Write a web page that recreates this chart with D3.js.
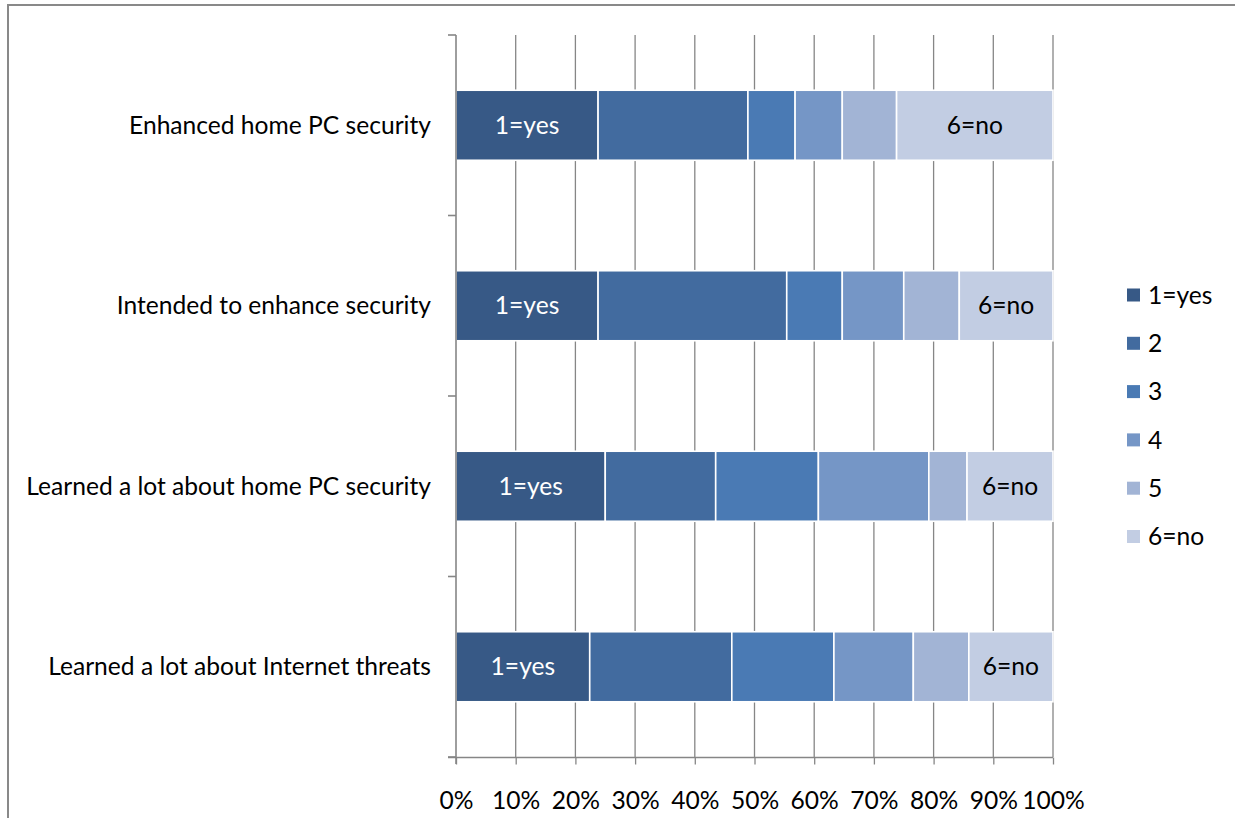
<!DOCTYPE html>
<html>
<head>
<meta charset="utf-8">
<script src="https://cdn.jsdelivr.net/npm/d3@7"></script>
<style>
  html, body { margin: 0; padding: 0; background: #fff; }
  svg { display: block; font-family: Lato, "Liberation Sans", sans-serif; }
</style>
</head>
<body>
<svg id="chart" width="1235" height="818"></svg>
<script>
// Survey answers, percent of respondents per item (1 = yes ... 6 = no)
const categories = [
  "Enhanced home PC security",
  "Intended to enhance security",
  "Learned a lot about home PC security",
  "Learned a lot about Internet threats"
];
const seriesNames = ["1=yes", "2", "3", "4", "5", "6=no"];
const answer1 = [23.8, 23.8, 25.0, 22.4];
const answer2 = [25.1, 31.6, 18.5, 23.8];
const answer3 = [7.9, 9.3, 17.2, 17.1];
const answer4 = [7.9, 10.3, 18.5, 13.3];
const answer5 = [9.1, 9.3, 6.4, 9.3];
const answer6 = [26.2, 15.7, 14.4, 14.1];
const xTicks = [0, 0.1, 0.2, 0.3, 0.4, 0.5, 0.6, 0.7, 0.8, 0.9, 1];
const colors = ["#375986", "#426b9f", "#4a7ab4", "#7596c6", "#a2b4d5", "#c2cde3"];

const seriesValues = [answer1, answer2, answer3, answer4, answer5, answer6];
const rows = categories.map((c, i) => {
  const r = { category: c };
  seriesNames.forEach((s, k) => { r[s] = seriesValues[k][i]; });
  return r;
});

const svg = d3.select("#chart");
const fontSize = 24.6;
const gridColor = "#868686";

// outer frame
svg.append("rect")
  .attr("x", 8).attr("y", 5).attr("width", 1240).attr("height", 830)
  .attr("fill", "none").attr("stroke", "#898989").attr("stroke-width", 2);

const x = d3.scaleLinear().domain([0, 1]).range([456, 1053]);
const y = d3.scaleBand().domain(categories).range([35, 757])
  .paddingInner(0.612).paddingOuter(0.306);

// vertical gridlines
svg.append("g").selectAll("line")
  .data(xTicks.filter(t => t > 0))
  .join("line")
  .attr("x1", d => x(d)).attr("x2", d => x(d))
  .attr("y1", 35).attr("y2", 757)
  .attr("stroke", gridColor).attr("stroke-width", 1.3);

// stacked bars
const stack = d3.stack().keys(seriesNames).offset(d3.stackOffsetExpand);
const layers = stack(rows);

const layerG = svg.append("g").selectAll("g")
  .data(layers)
  .join("g")
  .attr("fill", (d, i) => colors[i]);

layerG.selectAll("rect")
  .data(d => d)
  .join("rect")
  .attr("x", d => x(d[0]))
  .attr("width", d => x(d[1]) - x(d[0]))
  .attr("y", d => y(d.data.category))
  .attr("height", y.bandwidth())
  .attr("stroke", "#fff").attr("stroke-width", 1.6);

// in-bar labels for the two end answers
const firstLayer = layers[0];
const lastLayer = layers[layers.length - 1];
svg.append("g").selectAll("text")
  .data(firstLayer)
  .join("text")
  .attr("x", d => (x(d[0]) + x(d[1])) / 2)
  .attr("y", d => y(d.data.category) + y.bandwidth() / 2)
  .attr("dy", "0.35em")
  .attr("text-anchor", "middle")
  .attr("fill", "#fff")
  .attr("font-size", fontSize)
  .text(seriesNames[0]);
svg.append("g").selectAll("text")
  .data(lastLayer)
  .join("text")
  .attr("x", d => (x(d[0]) + x(d[1])) / 2)
  .attr("y", d => y(d.data.category) + y.bandwidth() / 2)
  .attr("dy", "0.35em")
  .attr("text-anchor", "middle")
  .attr("fill", "#000")
  .attr("font-size", fontSize)
  .text(seriesNames[seriesNames.length - 1]);

// x axis
const xAxis = svg.append("g")
  .attr("transform", "translate(0,757.5)")
  .call(d3.axisBottom(x).tickValues(xTicks).tickFormat(d3.format(".0%"))
    .tickSize(7).tickPadding(27).tickSizeOuter(0));
xAxis.select(".domain").attr("stroke", gridColor).attr("stroke-width", 1.6)
  .attr("d", `M${x(0) - 8},0H${x(1)}`);
xAxis.selectAll(".tick line").attr("stroke", gridColor).attr("stroke-width", 1.3);
xAxis.selectAll(".tick text").attr("font-size", fontSize).attr("font-family", "Lato, 'Liberation Sans', sans-serif").attr("fill", "#000");

// y axis with ticks on the category boundaries
const yAxisG = svg.append("g");
yAxisG.append("line")
  .attr("x1", x(0)).attr("x2", x(0))
  .attr("y1", y.range()[0]).attr("y2", y.range()[1] + 7)
  .attr("stroke", gridColor).attr("stroke-width", 1.6);
yAxisG.selectAll("line.tick")
  .data(d3.range(categories.length + 1))
  .join("line")
  .attr("class", "tick")
  .attr("x1", x(0) - 8).attr("x2", x(0))
  .attr("y1", i => y.range()[0] + i * y.step())
  .attr("y2", i => y.range()[0] + i * y.step())
  .attr("stroke", gridColor).attr("stroke-width", 1.6);
yAxisG.selectAll("text")
  .data(categories)
  .join("text")
  .attr("x", 431)
  .attr("y", d => y(d) + y.bandwidth() / 2)
  .attr("dy", "0.35em")
  .attr("text-anchor", "end")
  .attr("font-size", fontSize)
  .attr("fill", "#000")
  .text(d => d);

// legend
const legend = svg.append("g").attr("transform", "translate(1127,295)");
const item = legend.selectAll("g")
  .data(seriesNames)
  .join("g")
  .attr("transform", (d, i) => `translate(0,${i * 48.3})`);
item.append("rect")
  .attr("x", 0).attr("y", -6.5).attr("width", 13).attr("height", 13)
  .attr("fill", (d, i) => colors[i]);
item.append("text")
  .attr("x", 21).attr("dy", "0.35em")
  .attr("font-size", fontSize)
  .attr("fill", "#000")
  .text(d => d);
</script>
</body>
</html>
